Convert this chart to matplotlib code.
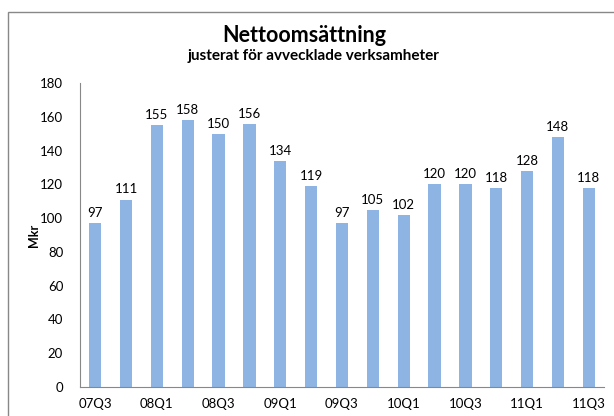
import matplotlib
matplotlib.use("Agg")
import matplotlib.pyplot as plt
from matplotlib.patches import Rectangle

# kvartal och nettoomsättning (Mkr)
quarters = ["07Q3", "07Q4", "08Q1", "08Q2", "08Q3", "08Q4", "09Q1", "09Q2", "09Q3",
            "09Q4", "10Q1", "10Q2", "10Q3", "10Q4", "11Q1", "11Q2", "11Q3"]
values = [97, 111, 155, 158, 150, 156, 134, 119, 97, 105, 102, 120, 120, 118, 128, 148, 118]

plt.rcParams['font.family'] = ['Lato', 'DejaVu Sans']

fig = plt.figure(figsize=(6.14, 4.16), dpi=100)
ax = fig.add_axes([0.130, 0.070, 0.854, 0.730])

x = list(range(len(values)))
bars = ax.bar(x, values, width=0.4, color='#8DB4E2')
ax.bar_label(bars, labels=[str(v) for v in values], padding=3, fontsize=9.5)

ax.set_xlim(-0.5, len(values) - 0.5)
ax.set_ylim(0, 180)
ax.set_yticks(range(0, 181, 20))
ax.set_xticks(x)
ax.set_xticklabels([q if i % 2 == 0 else "" for i, q in enumerate(quarters)])
ax.tick_params(length=0, labelsize=9.5, pad=8)
ax.tick_params(axis='y', pad=12)

for s in ['top', 'right']:
    ax.spines[s].set_visible(False)
for s in ['left', 'bottom']:
    ax.spines[s].set_color('#888888')
    ax.spines[s].set_linewidth(0.8)

ax.set_ylabel('Mkr', fontsize=9, fontweight='bold', labelpad=0)

fig.text(0.495, 0.914, 'Nettoomsättning', ha='center', va='center', fontsize=15.5, fontweight='bold')
fig.text(0.511, 0.866, 'justerat för avvecklade verksamheter', ha='center', va='center',
         fontsize=11, fontweight='bold')

# yttre ram (beskuren i högra och nedre kanten)
fig.add_artist(Rectangle((8 / 614, -0.1), 1.0, 1.1 - 12 / 416, transform=fig.transFigure,
                         fill=False, edgecolor='#888888', linewidth=1.0))

fig.savefig('out.png', dpi=100)
